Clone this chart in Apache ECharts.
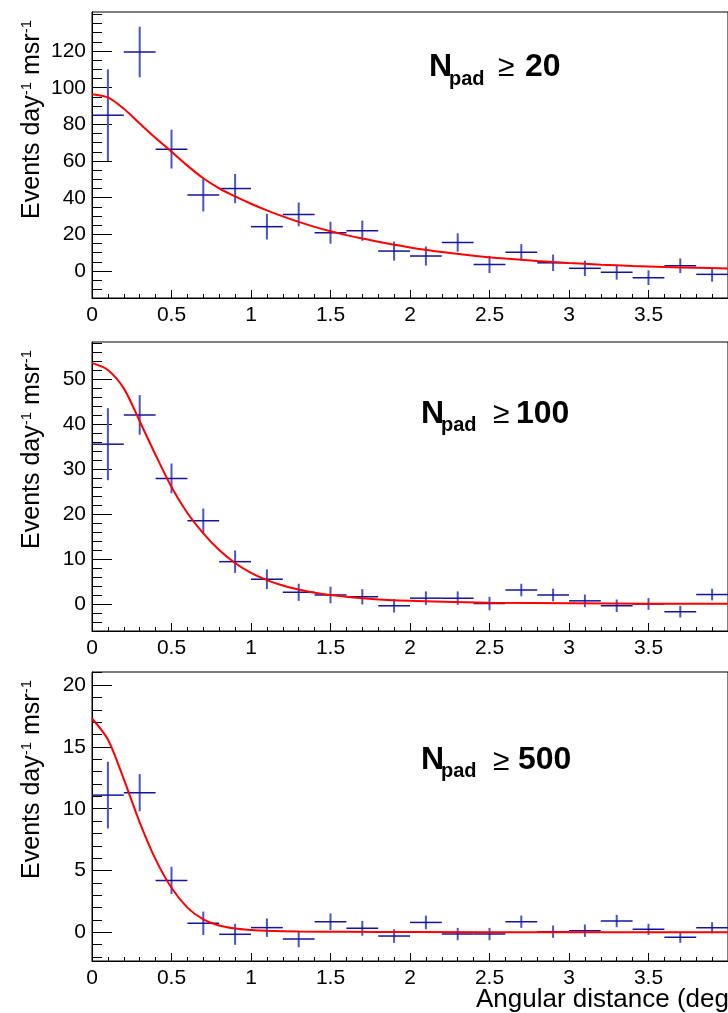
<!DOCTYPE html>
<html><head><meta charset="utf-8">
<script src="https://cdn.jsdelivr.net/npm/echarts@6/dist/echarts.min.js"></script>
<style>html,body{margin:0;padding:0;background:#fff;overflow:hidden}#c{width:728px;height:1013px}</style>
</head><body><div id="c"></div>
<script>
// ---- data ----
const binCenters = [0.1,0.3,0.5,0.7,0.9,1.1,1.3,1.5,1.7,1.9,2.1,2.3,2.5,2.7,2.9,3.1,3.3,3.5,3.7,3.9];
const binWidth = 0.2;

const p1Values = [85,119.5,66.5,41.5,45,24.2,30.9,20.9,22,10.9,8.2,15.6,3.6,10.2,4.5,1.5,-0.7,-3.6,2.9,-1.8];
const p1Errors = [25,13.8,10.6,9,8,7,6.5,6,5.5,5.2,5.2,5,4.7,4.5,4.5,4.2,4,4,4,4];
const p2Values = [35.5,42,27.9,18.5,9.4,5.5,2.6,2.0,1.6,-0.4,1.3,1.3,0.1,3.1,2.0,0.7,-0.4,0,-1.7,2.1];
const p2Errors = [8,4.4,3.3,2.7,2.5,2.2,1.9,1.85,1.7,1.5,1.5,1.5,1.5,1.4,1.4,1.4,1.4,1.3,1.3,1.3];
const p3Values = [11.1,11.3,4.2,0.73,-0.16,0.38,-0.54,0.86,0.32,-0.3,0.8,-0.14,-0.14,0.86,0.05,0.13,0.91,0.24,-0.4,0.37];
const p3Errors = [2.7,1.5,1.1,0.95,0.85,0.75,0.67,0.67,0.6,0.55,0.55,0.5,0.5,0.5,0.5,0.5,0.5,0.45,0.45,0.45];

const fit1X = [0,0.1,0.2,0.3,0.4,0.5,0.6,0.7,0.8,0.9,1.0,1.1,1.2,1.3,1.4,1.5,1.6,1.7,1.8,1.9,2.0,2.2,2.4,2.6,2.8,3.0,3.2,3.4,3.6,3.8,4.0];
const fit1Y = [96.5,94.7,88.5,80.5,72.6,65.1,57.5,50.6,45.1,40.7,36.7,33.1,29.8,26.8,24.1,21.7,19.6,17.7,16.0,14.4,12.9,10.4,8.4,6.8,5.5,4.4,3.5,2.8,2.2,1.8,1.4];
const fit2X = [0,0.1,0.2,0.3,0.4,0.5,0.6,0.7,0.8,0.9,1.0,1.1,1.2,1.3,1.4,1.5,1.7,2.0,2.5,3.0,3.5,4.0];
const fit2Y = [53.5,52,47.9,40.6,33.1,26.0,20.2,15.7,12,9.1,6.9,5.3,4.1,3.2,2.5,2.0,1.3,0.7,0.3,0.15,0.08,0.05];
const fit3X = [0,0.1,0.2,0.3,0.4,0.5,0.6,0.7,0.8,0.9,1.0,1.1,1.3,1.6,2.0,3.0,4.0];
const fit3Y = [17.3,15.6,12.4,8.9,5.9,3.6,2.0,1.05,0.55,0.3,0.19,0.13,0.07,0.04,0.02,0.01,0.01];

const p1Range = [-14.7, 141.3];
const p2Range = [-6.0, 58.2];
const p3Range = [-2.32, 21.06];
const p1Major = [0,20,40,60,80,100,120];
const p2Major = [0,10,20,30,40,50];
const p3Major = [0,5,10,15,20];
const p1MinorStep = 5, p2MinorStep = 2, p3MinorStep = 1;
const panelThresholds = ['20','100','500'];
const xTitle = 'Angular distance (degrees)';

// ---- chart ----
const FONT = '"Liberation Sans", Arial, Helvetica, sans-serif';
const chart = echarts.init(document.getElementById('c'), null, {renderer:'canvas'});

const panels = [
  {values:p1Values, errors:p1Errors, fx:fit1X, fy:fit1Y, range:p1Range, major:p1Major, step:p1MinorStep,
   top:12, height:286, ytitleTop:20, title:{nx:429, nb:78.3, px:449, pb:86, gx:498, vx:525}},
  {values:p2Values, errors:p2Errors, fx:fit2X, fy:fit2Y, range:p2Range, major:p2Major, step:p2MinorStep,
   top:342, height:289, ytitleTop:350, title:{nx:421, nb:425, px:441, pb:432, gx:493, vx:516}},
  {values:p3Values, errors:p3Errors, fx:fit3X, fy:fit3Y, range:p3Range, major:p3Major, step:p3MinorStep,
   top:672, height:289, ytitleTop:680, title:{nx:421, nb:771.7, px:441, pb:778.3, gx:493, vx:518}}
];

function minorTicks(range, step){
  const out = [];
  for (let v = Math.ceil(range[0]/step)*step; v <= range[1]; v += step) out.push(+v.toFixed(6));
  return out;
}

function renderErr(params, api){
  const x = api.value(0), y = api.value(1), e = api.value(2);
  const hw = binWidth/2;
  const L = api.coord([x-hw, y]), R = api.coord([x+hw, y]);
  const T = api.coord([x, y+e]), B = api.coord([x, y-e]);
  return {type:'group', children:[
    {type:'line', shape:{x1:T[0], y1:T[1], x2:B[0], y2:B[1]}, style:{stroke:'#4a55c4', lineWidth:2}},
    {type:'line', shape:{x1:L[0], y1:L[1], x2:R[0], y2:R[1]}, style:{stroke:'#14149c', lineWidth:1.5}}
  ]};
}

const grids = [], xAxes = [], yAxes = [], series = [], graphics = [];
panels.forEach((p, k) => {
  grids.push({left:92, width:644, top:p.top, height:p.height, show:true, borderColor:'#000', borderWidth:1, backgroundColor:'transparent'});
  xAxes.push({gridIndex:k, type:'value', min:0, max:4, interval:0.5,
    axisLine:{show:true, onZero:false, lineStyle:{color:'#000', width:1}},
    axisTick:{show:true, inside:true, length:8, lineStyle:{color:'#000'}},
    minorTick:{show:true, splitNumber:5, length:4, lineStyle:{color:'#000'}},
    axisLabel:{show:true, margin:7, fontSize:21, color:'#000', fontFamily:FONT, showMaxLabel:false, formatter:v=>String(v)},
    splitLine:{show:false}, minorSplitLine:{show:false}});
  yAxes.push({gridIndex:k, type:'value', min:p.range[0], max:p.range[1], position:'left',
    axisLine:{show:true, onZero:false, lineStyle:{color:'#000', width:1}},
    axisTick:{show:true, inside:true, length:20, customValues:p.major, lineStyle:{color:'#000'}},
    axisLabel:{show:true, customValues:p.major, margin:6, fontSize:21, color:'#000', fontFamily:FONT},
    splitLine:{show:false}});
  yAxes.push({gridIndex:k, type:'value', min:p.range[0], max:p.range[1], position:'left', offset:0,
    axisLine:{show:false},
    axisTick:{show:true, inside:true, length:10, customValues:minorTicks(p.range, p.step), lineStyle:{color:'#000'}},
    axisLabel:{show:false}, splitLine:{show:false}});
  series.push({type:'custom', xAxisIndex:k, yAxisIndex:2*k, renderItem:renderErr, clip:true, z:2,
    encode:{x:0, y:1}, data: binCenters.map((x,i)=>[x, p.values[i], p.errors[i]])});
  series.push({type:'line', xAxisIndex:k, yAxisIndex:2*k, smooth:0.3, showSymbol:false, clip:true, z:3,
    lineStyle:{color:'#ff0000', width:2}, data: p.fx.map((x,i)=>[x, p.fy[i]])});

  // y-axis title
  graphics.push({type:'text', x:32, y:p.ytitleTop, rotation:Math.PI/2, silent:true,
    style:{text:'{a|Events day}{s|-1}{a| msr}{s|-1}', align:'right', verticalAlign:'middle',
      rich:{a:{fontSize:25, fontFamily:FONT, fill:'#000', lineHeight:26},
            s:{fontSize:15, fontFamily:FONT, fill:'#000', verticalAlign:'top', lineHeight:15}}}});
  // panel label
  const t = p.title;
  graphics.push({type:'text', x:t.nx, y:t.nb - 0.3465*32, silent:true,
    style:{text:'N', fontSize:32, fontWeight:'bold', fontFamily:FONT, fill:'#000', align:'left', verticalAlign:'middle'}});
  graphics.push({type:'text', x:t.px, y:t.pb - 0.3465*20, silent:true,
    style:{text:'pad', fontSize:20, fontWeight:'bold', fontFamily:FONT, fill:'#000', align:'left', verticalAlign:'middle'}});
  graphics.push({type:'text', x:t.gx, y:t.nb - 0.3465*30, silent:true,
    style:{text:'≥', fontSize:30, fontFamily:FONT, fill:'#000', align:'left', verticalAlign:'middle'}});
  graphics.push({type:'text', x:t.vx, y:t.nb - 0.3465*32, silent:true,
    style:{text:panelThresholds[k], fontSize:32, fontWeight:'bold', fontFamily:FONT, fill:'#000', align:'left', verticalAlign:'middle'}});
});

graphics.push({type:'text', x:476, y:1000, silent:true,
  style:{text:xTitle, fontSize:26, fontFamily:FONT, fill:'#000', align:'left', verticalAlign:'middle'}});

chart.setOption({
  animation:false,
  backgroundColor:'#fff',
  grid:grids, xAxis:xAxes, yAxis:yAxes, series:series, graphic:graphics
});
</script></body></html>
